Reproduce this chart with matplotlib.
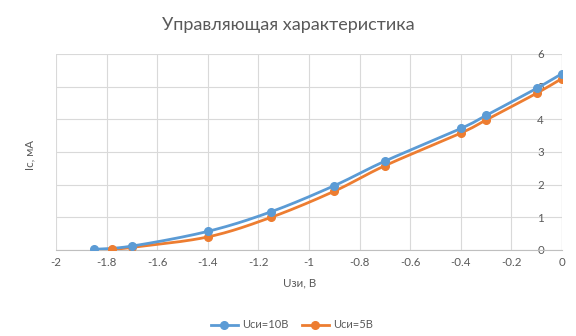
import numpy as np
import matplotlib
matplotlib.use("Agg")
import matplotlib.pyplot as plt

plt.rcParams['font.family'] = ['Lato', 'DejaVu Sans']

x10 = [-1.85, -1.7, -1.4, -1.15, -0.9, -0.7, -0.4, -0.3, -0.1, 0.0]
y10 = [0.02, 0.12, 0.57, 1.17, 1.97, 2.72, 3.72, 4.12, 4.95, 5.40]
x5 = [-1.78, -1.7, -1.4, -1.15, -0.9, -0.7, -0.4, -0.3, -0.1, 0.0]
y5 = [0.02, 0.08, 0.40, 1.00, 1.80, 2.58, 3.58, 3.98, 4.80, 5.25]
labels = ['Uси=10В', 'Uси=5В']
colors = ['#5B9BD5', '#ED7D31']
xticks = [-2, -1.8, -1.6, -1.4, -1.2, -1, -0.8, -0.6, -0.4, -0.2, 0]
yticks = [0, 1, 2, 3, 4, 5, 6]


def smooth(xs, ys, n=30):
    """Catmull-Rom style Bezier smoothing like Excel's smoothed line."""
    P = np.column_stack([xs, ys]).astype(float)
    P = np.vstack([P[0], P, P[-1]])
    out = []
    for i in range(1, len(P) - 2):
        p0, p1, p2, p3 = P[i - 1], P[i], P[i + 1], P[i + 2]
        c1 = p1 + (p2 - p0) / 6.0
        c2 = p2 - (p3 - p1) / 6.0
        t = np.linspace(0, 1, n)[:, None]
        seg = ((1 - t) ** 3) * p1 + 3 * ((1 - t) ** 2) * t * c1 + 3 * (1 - t) * t ** 2 * c2 + t ** 3 * p2
        out.append(seg if i == 1 else seg[1:])
    s = np.vstack(out)
    return s[:, 0], s[:, 1]


fig = plt.figure(figsize=(5.76, 3.36), dpi=100)
ax = fig.add_axes([56 / 576, 1 - 250 / 336, (562 - 56) / 576, (250 - 54) / 336])

for xs, ys, c, lab in [(x10, y10, colors[0], labels[0]), (x5, y5, colors[1], labels[1])][::-1]:
    sx, sy = smooth(xs, ys)
    ax.plot(sx, sy, color=c, lw=2.0, solid_capstyle='round', zorder=3)
    ax.plot(xs, ys, 'o', color=c, ms=5.5, zorder=4)

handles = [plt.Line2D([], [], color=colors[i], lw=2.0, marker='o', ms=5.5) for i in range(2)]

ax.set_xlim(-2, 0)
ax.set_ylim(0, 6)
ax.set_xticks(xticks)
ax.set_xticklabels([('%g' % v) for v in xticks])
ax.set_yticks(yticks)
ax.grid(True, color='#D9D9D9', lw=0.8)
ax.set_axisbelow(True)
for s in ['top', 'right', 'left']:
    ax.spines[s].set_visible(False)
ax.spines['bottom'].set_color('#BFBFBF')
ax.tick_params(axis='both', length=0, labelsize=8.3, colors='#595959')
ax.tick_params(axis='x', pad=5)
ax.yaxis.tick_right()
ax.tick_params(axis='y', direction='in', pad=-13)
for lab in ax.get_yticklabels():
    lab.set_horizontalalignment('right')
ax.axvline(0, color='#BFBFBF', lw=0.8, zorder=2)

fig.text(0.5, 1 - 25 / 336, 'Управляющая характеристика', ha='center', va='center',
         fontsize=13, color='#595959')
fig.text(300 / 576, 1 - 283 / 336, 'Uзи, В', ha='center', va='center', fontsize=8.3, color='#595959')
fig.text(30 / 576, 1 - 155 / 336, 'Ic, мА', ha='center', va='center', rotation=90, fontsize=8.3, color='#595959')

fig.legend(handles, labels, loc='center', bbox_to_anchor=(292 / 576, 1 - 325 / 336), ncol=2,
           frameon=False, fontsize=8.0, labelcolor='#595959', handlelength=2.4, columnspacing=1.2,
           handletextpad=0.4)

fig.savefig('out.png', dpi=100)
